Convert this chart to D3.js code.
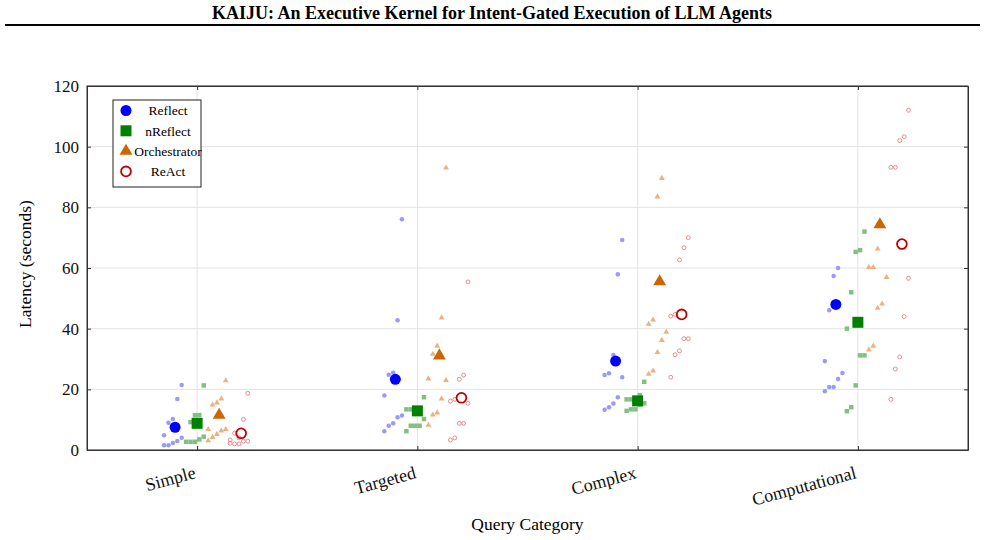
<!DOCTYPE html>
<html>
<head>
<meta charset="utf-8">
<script src="https://cdn.jsdelivr.net/npm/d3@7"></script>
<style>
  body { margin: 0; background: #fff; }
  svg { font-family: "Liberation Serif", "DejaVu Serif", serif; }
</style>
</head>
<body>
<svg id="chart" width="985" height="540"></svg>
<script>
// Latency per query category, individual runs + mean per system
const categories = ["Simple", "Targeted", "Complex", "Computational"];
const seriesNames = ["Reflect", "nReflect", "Orchestrator", "ReAct"];
const yTicks = [0, 20, 40, 60, 80, 100, 120];

// mean latency per category (seconds)
const reflectMean = [7.5, 23.3, 29.3, 48.0];
const nReflectMean = [8.8, 12.9, 16.2, 42.1];
const orchestratorMean = [11.5, 31.1, 55.5, 74.3];
const reactMean = [5.5, 17.2, 44.7, 67.9];

// individual runs: [latency, jitter]
const reflectRuns = [
    [[21.4, 0.03], [16.8, 0.01], [10.2, -0.01], [9.0, -0.03], [4.9, -0.05], [1.6, -0.05], [1.6, -0.03], [2.3, -0.01], [3.0, 0.01], [4.0, 0.03]],
    [[76.1, 0.03], [42.8, 0.01], [24.8, -0.03], [25.5, -0.01], [18.0, -0.05], [11.4, 0.03], [10.8, 0.01], [8.8, -0.01], [8.0, -0.03], [6.2, -0.05]],
    [[69.2, 0.03], [57.9, 0.01], [31.3, -0.01], [24.7, -0.05], [25.3, -0.03], [24.0, 0.03], [17.4, 0.01], [15.3, -0.01], [14.1, -0.03], [13.3, -0.05]],
    [[60.0, 0.01], [57.4, -0.01], [46.1, -0.03], [29.3, -0.05], [25.4, 0.03], [23.4, 0.01], [20.8, -0.03], [20.8, -0.01], [19.4, -0.05]]
];
const nReflectRuns = [
    [[21.3, 0.03], [11.5, -0.01], [11.5, 0.01], [9.2, -0.03], [9.0, 0.0], [2.7, -0.05], [2.7, -0.03], [2.7, -0.01], [3.5, 0.01], [4.4, 0.03]],
    [[17.4, 0.03], [13.4, -0.05], [13.4, -0.03], [12.5, 0.01], [10.2, 0.03], [8.0, -0.03], [8.0, -0.01], [8.0, 0.01], [6.2, -0.05]],
    [[22.5, 0.03], [18.1, 0.01], [16.7, -0.05], [16.7, -0.03], [16.0, -0.01], [15.4, 0.03], [12.9, -0.05], [13.4, -0.03], [13.4, -0.01], [15.0, 0.01]],
    [[72.0, 0.03], [65.9, 0.01], [65.3, -0.01], [52.0, -0.03], [40.0, -0.05], [31.2, 0.01], [31.2, 0.03], [21.3, -0.01], [14.1, -0.03], [12.8, -0.05]]
];
const orchestratorRuns = [
    [[22.9, 0.03], [16.9, 0.01], [15.6, -0.01], [14.9, -0.03], [6.8, -0.05], [6.8, 0.03], [6.3, 0.01], [5.2, -0.01], [4.2, -0.03], [3.1, -0.05]],
    [[93.0, 0.03], [43.6, 0.01], [34.3, -0.01], [31.6, -0.03], [23.5, -0.05], [23.0, 0.03], [16.9, 0.01], [12.3, -0.01], [11.6, -0.03], [8.2, -0.05]],
    [[89.6, 0.01], [83.5, -0.01], [42.9, -0.03], [41.5, -0.05], [38.9, 0.03], [36.2, 0.01], [32.2, -0.01], [26.1, -0.03], [25.0, -0.05]],
    [[66.3, -0.01], [60.2, -0.05], [60.2, -0.03], [56.9, 0.03], [48.2, 0.01], [46.8, -0.01], [34.3, -0.03], [33.0, -0.05]]
];
const reactRuns = [
    [[18.7, 0.03], [10.1, 0.01], [5.5, -0.03], [3.3, -0.05], [2.2, -0.05], [2.0, -0.03], [2.0, -0.01], [2.9, 0.01], [2.9, 0.03], [4.0, -0.01]],
    [[55.4, 0.03], [24.7, 0.01], [23.3, -0.01], [16.7, -0.03], [16.1, -0.05], [15.4, 0.03], [8.8, -0.01], [8.8, 0.01], [3.3, -0.05], [4.0, -0.03]],
    [[70.0, 0.03], [66.7, 0.01], [62.7, -0.01], [44.1, -0.05], [44.7, -0.03], [36.7, 0.01], [36.7, 0.03], [32.7, -0.01], [31.4, -0.03], [24.0, -0.05]],
    [[112.0, 0.03], [103.3, 0.01], [102.0, -0.01], [93.2, -0.05], [93.2, -0.03], [56.6, 0.03], [44.0, 0.01], [30.7, -0.01], [26.7, -0.03], [16.7, -0.05]]
];

const margin = { top: 86, right: 17, bottom: 90, left: 87 },
    width = 985 - margin.left - margin.right,
    height = 540 - margin.top - margin.bottom;

const svgRoot = d3.select("#chart");

// page header
svgRoot.append("text")
    .attr("x", 492)
    .attr("y", 19)
    .attr("text-anchor", "middle")
    .style("font-size", "18px")
    .style("font-weight", "bold")
    .text("KAIJU: An Executive Kernel for Intent-Gated Execution of LLM Agents");
svgRoot.append("line")
    .attr("x1", 5).attr("x2", 980)
    .attr("y1", 25).attr("y2", 25)
    .attr("stroke", "#000")
    .attr("stroke-width", 2);

const svg = svgRoot.append("g")
    .attr("transform", `translate(${margin.left},${margin.top})`);

const x = d3.scaleLinear().domain([-0.5, 3.5]).range([0, width]);
const y = d3.scaleLinear().domain([0, 120]).range([height, 0]);

const offsets = [-0.1, 0, 0.1, 0.2];
const colors = ["#0000ff", "#008000", "#cc6600", "#c00000"];
const lightColors = ["#9999ff", "#80c080", "#ebb280", "#e68080"];

// grid
svg.append("g")
    .selectAll("line")
    .data(yTicks)
    .enter().append("line")
    .attr("x1", 0).attr("x2", width)
    .attr("y1", d => y(d)).attr("y2", d => y(d))
    .attr("stroke", "#e3e3e3");
svg.append("g")
    .selectAll("line")
    .data(categories)
    .enter().append("line")
    .attr("x1", (d, i) => x(i)).attr("x2", (d, i) => x(i))
    .attr("y1", 0).attr("y2", height)
    .attr("stroke", "#e3e3e3");

// axes (ticks inside, pgfplots style)
const yAxis = svg.append("g")
    .call(d3.axisLeft(y).tickValues(yTicks).tickSizeInner(-4).tickSizeOuter(0).tickPadding(8));
yAxis.selectAll("text").style("font-size", "17px").attr("fill", "#111");
svg.append("g")
    .attr("transform", `translate(${width},0)`)
    .call(d3.axisRight(y).tickValues(yTicks).tickSizeInner(-4).tickSizeOuter(0).tickFormat(""));

const xAxis = svg.append("g")
    .attr("transform", `translate(0,${height})`)
    .call(d3.axisBottom(x).tickValues([0, 1, 2, 3]).tickSizeInner(-4).tickSizeOuter(0)
        .tickFormat(i => categories[i]));
xAxis.selectAll("text")
    .style("font-size", "18px")
    .attr("fill", "#111")
    .attr("text-anchor", "end")
    .attr("dy", null)
    .attr("y", 0)
    .attr("transform", "translate(-1,28) rotate(-15)");
svg.append("g")
    .call(d3.axisTop(x).tickValues([0, 1, 2, 3]).tickSizeInner(-4).tickSizeOuter(0).tickFormat(""));

// let the serif font from the page apply to the axis labels
svg.selectAll("g").attr("font-family", null);
svg.selectAll(".domain").attr("stroke", "#333");
svg.selectAll(".tick line").attr("stroke", "#333");

svg.append("rect")
    .attr("width", width).attr("height", height)
    .attr("fill", "none")
    .attr("stroke", "#333");

// axis titles
svg.append("text")
    .attr("x", width / 2)
    .attr("y", height + 80)
    .attr("text-anchor", "middle")
    .style("font-size", "17.5px")
    .text("Query Category");
svg.append("text")
    .attr("transform", `translate(${-56},${height / 2 - 4}) rotate(-90)`)
    .attr("text-anchor", "middle")
    .style("font-size", "17.5px")
    .text("Latency (seconds)");

// marker shapes
const symbols = [d3.symbolCircle, d3.symbolSquare, d3.symbolTriangle, d3.symbolCircle];
const smallSize = [16, 20, 15, 12];
const bigSize = [95, 121, 72, 75];

function drawMark(g, s, size, big) {
    const p = g.append("path").attr("d", d3.symbol().type(symbols[s]).size(size)());
    if (s === 3) {
        p.attr("fill", "none")
            .attr("stroke", big ? colors[s] : lightColors[s])
            .attr("stroke-width", big ? 1.8 : 0.9);
    } else {
        p.attr("fill", big ? colors[s] : lightColors[s]);
    }
    return p;
}

const allRuns = [reflectRuns, nReflectRuns, orchestratorRuns, reactRuns];
const allMeans = [reflectMean, nReflectMean, orchestratorMean, reactMean];

allRuns.forEach(function (runs, s) {
    runs.forEach(function (pts, c) {
        pts.forEach(function (d) {
            const g = svg.append("g")
                .attr("transform", `translate(${x(c + offsets[s] + d[1])},${y(d[0])})`);
            drawMark(g, s, smallSize[s], false);
        });
    });
});

allMeans.forEach(function (means, s) {
    means.forEach(function (m, c) {
        const g = svg.append("g")
            .attr("transform", `translate(${x(c + offsets[s])},${y(m)})`);
        drawMark(g, s, bigSize[s], true);
    });
});

// legend
const legend = svg.append("g").attr("transform", "translate(26,14)");
legend.append("rect")
    .attr("width", 88).attr("height", 87)
    .attr("fill", "#fff")
    .attr("stroke", "#222");
seriesNames.forEach(function (name, i) {
    const row = legend.append("g").attr("transform", `translate(0,${10.5 + i * 20.3})`);
    const m = row.append("g").attr("transform", "translate(13,0)");
    drawMark(m, i, bigSize[i], true);
    row.append("text")
        .attr("x", 55)
        .attr("y", 0)
        .attr("dy", "0.35em")
        .attr("text-anchor", "middle")
        .style("font-size", "13.5px")
        .text(name);
});
</script>
</body>
</html>
